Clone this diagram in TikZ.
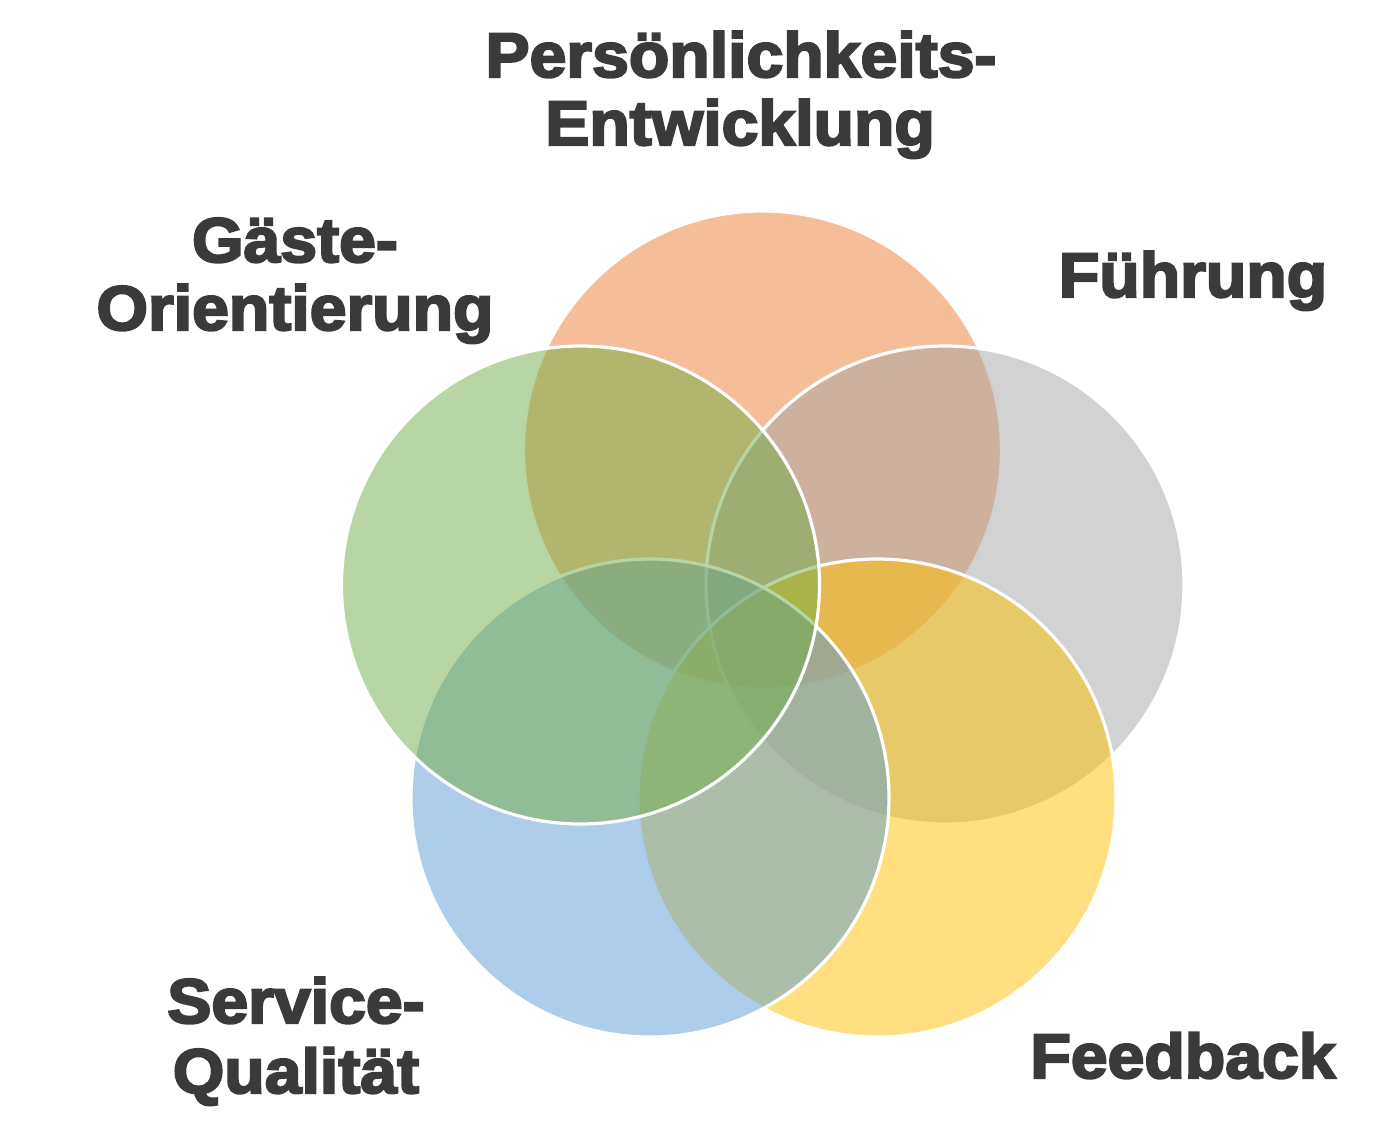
\documentclass[tikz,border=0pt]{standalone}
\usepackage{fontspec}
\setmainfont{Liberation Sans}[BoldFeatures={FakeBold=3.5,FakeStretch=1.05}]
\definecolor{cOrange}{HTML}{ED7D31}
\definecolor{cGray}{HTML}{A5A5A5}
\definecolor{cYellow}{HTML}{FFC000}
\definecolor{cBlue}{HTML}{5B9BD5}
\definecolor{cGreen}{HTML}{70AD47}
\definecolor{cText}{HTML}{3A3A3A}
\begin{document}
\begin{tikzpicture}[x=1pt,y=-1pt,
  venn/.style={circle,minimum size=478pt,inner sep=0pt,fill=#1,fill opacity=0.5,draw=white,draw opacity=1,line width=3.2pt},
  lbl/.style={text=cText,font=\fontsize{63}{70}\selectfont\bfseries,anchor=base,inner sep=0pt}]
\useasboundingbox (0,0) rectangle (1384,1143);
\node[venn=cOrange] (orange) at (762.5,450) {};
\node[venn=cGray] (gray) at (945,585) {};
\node[venn=cYellow] (yellow) at (877,798) {};
\node[venn=cBlue] (blue) at (650,798) {};
\node[venn=cGreen] (green) at (580.5,585) {};
\node[lbl] (t1a) at (741,77) {Persönlichkeits-};
\node[lbl] (t1b) at (740,145) {Entwicklung};
\node[lbl] (t2a) at (295,262) {Gäste-};
\node[lbl] (t2b) at (295,330) {Orientierung};
\node[lbl] (t3) at (1193,297) {Führung};
\node[lbl] (t4a) at (296,1023) {Service-};
\node[lbl] (t4b) at (296,1093) {Qualität};
\node[lbl] (t5) at (1183,1078) {Feedback};
\end{tikzpicture}
\end{document}
